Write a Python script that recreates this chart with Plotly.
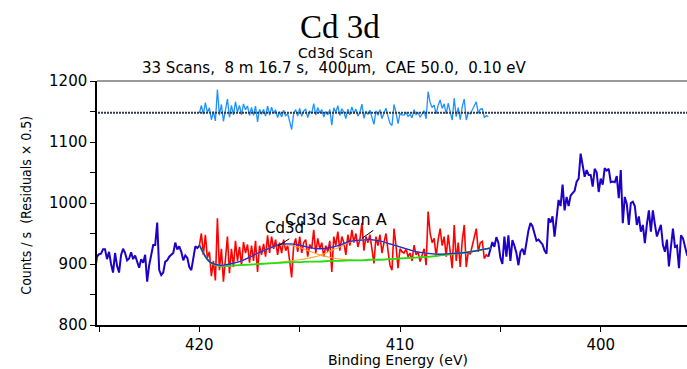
import numpy as np
import plotly.graph_objects as go

# ---------------- data ----------------
# binding energies, 0.1 eV steps
energy_low = np.round(np.arange(4252, 4199, -1) / 10.0, 1)    # 425.2 ... 420.0
energy_fit = np.round(np.arange(4200, 4055, -1) / 10.0, 1)    # 420.0 ... 405.6
energy_high = np.round(np.arange(4055, 3955, -1) / 10.0, 1)   # 405.5 ... 395.6

counts_low = [887, 912, 916, 917, 924, 924, 908, 920, 900, 886,
              918, 897, 886, 915, 925, 918, 906, 909, 919, 908,
              914, 902, 894, 908, 902, 915, 871, 898, 918, 931,
              931, 968, 890, 882, 886, 904, 906, 912, 915, 918,
              935, 924, 929, 920, 906, 914, 910, 895, 890, 912,
              929, 926, 930]

counts_fit = [930, 950, 915, 948, 910, 920, 880, 905, 873, 975,
              890, 925, 871, 915, 945, 885, 925, 895, 938, 905,
              928, 898, 936, 918, 932, 902, 930, 905, 938, 887,
              930, 915, 933, 912, 947, 918, 945, 925, 940, 915,
              935, 918, 940, 922, 930, 905, 878, 930, 942, 920,
              945, 918, 935, 940, 912, 932, 925, 956, 918, 942,
              925, 935, 912, 930, 920, 938, 887, 945, 930, 953,
              922, 945, 935, 915, 948, 930, 956, 935, 950, 928,
              940, 967, 922, 945, 935, 948, 925, 901, 945, 930,
              948, 918, 935, 950, 922, 898, 890, 958, 930, 893,
              925, 920, 918, 925, 912, 918, 905, 931, 915, 920,
              904, 915, 925, 898, 986, 950, 935, 942, 912, 940,
              958, 930, 945, 912, 948, 920, 893, 964, 905, 935,
              895, 938, 964, 895, 920, 916, 930, 945, 958, 920,
              935, 937, 909, 915, 912]

counts_high = [925, 936, 928, 944, 935, 910, 900, 945, 912, 947,
               905, 939, 930, 918, 898, 920, 925, 915, 935, 955,
               967, 962, 950, 938, 940, 935, 932, 922, 917, 975,
               968, 978, 945, 975, 1005, 995, 1030, 988, 1010, 995,
               1012, 1016, 1020, 1035, 1040, 1081, 1065, 1043, 1054, 1046,
               1046, 1027, 1056, 1050, 1018, 1040, 1030, 1057, 1053, 1056,
               1034, 1035, 1034, 1044, 1008, 1054, 967, 1010, 998, 964,
               1000, 1002, 995, 964, 978, 953, 964, 934, 965, 988,
               953, 988, 965, 945, 955, 964, 931, 920, 940, 896,
               928, 958, 928, 930, 893, 947, 942, 930, 915, 915]

residuals = [1147.5, 1160, 1145.5, 1164.5, 1148.5, 1156, 1136.5, 1150, 1134.5, 1186,
             1144, 1161.5, 1134, 1156, 1170.5, 1140.5, 1160, 1144.5, 1166, 1149,
             1160, 1144.5, 1162.5, 1153, 1159, 1143.5, 1156.5, 1143.5, 1159, 1133,
             1153.5, 1145.5, 1153.5, 1142.5, 1159, 1144, 1157, 1146.5, 1153, 1140,
             1149.5, 1141, 1152, 1142.5, 1146.5, 1134, 1120.5, 1147, 1153, 1142.5,
             1155, 1142, 1151, 1153.5, 1140, 1150.5, 1147, 1163, 1144, 1156.5,
             1148, 1153, 1141, 1150, 1144.5, 1153.5, 1127.5, 1156, 1148.5, 1159.5,
             1143.5, 1154.5, 1149, 1138.5, 1154, 1144.5, 1157.5, 1146.5, 1154, 1142.5,
             1148.5, 1162, 1139, 1150.5, 1145.5, 1152, 1140.5, 1129, 1151, 1144,
             1153, 1138.5, 1147.5, 1155.5, 1142, 1130.5, 1127, 1161.5, 1148, 1130,
             1146.5, 1144.5, 1144, 1148, 1142, 1145.5, 1139.5, 1153, 1145, 1148,
             1140.5, 1146, 1151.5, 1138, 1182.5, 1164.5, 1157, 1160.5, 1146, 1160,
             1169, 1155, 1162.5, 1146, 1163.5, 1149.5, 1136, 1171.5, 1141.5, 1156.5,
             1136.5, 1158, 1170.5, 1136, 1148, 1146, 1152.5, 1160, 1166, 1147,
             1154, 1154.5, 1140.5, 1143, 1141.5]
residual_baseline = 1148

# fit components on a 0.5 eV grid: 420.0 ... 405.5
energy_model = np.round(np.arange(840, 810, -1) / 2.0, 1)
background = [931, 904, 897, 897, 898, 899, 900, 901, 902, 903,
              903, 904, 904, 905, 905, 906, 906, 907, 907, 908,
              909, 910, 911, 912, 914, 916, 918, 920, 923, 926]
peak_cd3d = [931, 904, 898, 900, 904, 911, 919, 926, 931, 931,
             927, 921, 915, 911, 908, 907, 906, 907, 907, 908,
             909, 910, 911, 912, 914, 916, 918, 920, 923, 926]
peak_scan_a = [931, 904, 897, 897, 898, 899, 900, 901, 903, 905,
               907, 910, 914, 921, 928, 936, 939, 940, 938, 933,
               928, 923, 919, 917, 916, 917, 918, 920, 923, 926]
envelope = [931, 904, 898, 900, 904, 911, 919, 926, 932, 933,
            931, 927, 925, 927, 931, 937, 939, 940, 938, 933,
            928, 923, 919, 917, 916, 917, 918, 920, 923, 926]

x_tick_vals = [425, 420, 415, 410, 405, 400]
x_tick_text = ["", "420", "", "410", "", "400"]
y_tick_vals = [800, 850, 900, 950, 1000, 1050, 1100, 1150, 1200]
y_tick_text = ["800", "", "900", "", "1000", "", "1100", "", "1200"]

# ---------------- figure ----------------
fig = go.Figure()

blue_x = list(energy_low) + [None] + [energy_fit[-1]] + list(energy_high)
blue_y = list(counts_low) + [None] + [counts_fit[-1]] + list(counts_high)
fig.add_trace(go.Scatter(x=blue_x, y=blue_y, mode="lines", connectgaps=False,
                         line=dict(color="#1E00C8", width=2), hoverinfo="skip"))
fig.add_trace(go.Scatter(x=energy_fit, y=counts_fit, mode="lines",
                         line=dict(color="#FF0000", width=1.6), hoverinfo="skip"))
fig.add_trace(go.Scatter(x=energy_model, y=peak_cd3d, mode="lines", line_shape="spline",
                         line=dict(color="#FFA530", width=1.1), hoverinfo="skip"))
fig.add_trace(go.Scatter(x=energy_model, y=peak_scan_a, mode="lines", line_shape="spline",
                         line=dict(color="#FFA530", width=1.1), hoverinfo="skip"))
fig.add_trace(go.Scatter(x=energy_model, y=background, mode="lines", line_shape="spline",
                         line=dict(color="#22E010", width=1.8), hoverinfo="skip"))
fig.add_trace(go.Scatter(x=energy_model, y=envelope, mode="lines", line_shape="spline",
                         line=dict(color="#1A2BE0", width=1.3), hoverinfo="skip"))
fig.add_trace(go.Scatter(x=energy_fit, y=residuals, mode="lines",
                         line=dict(color="#1E90FF", width=1.3), hoverinfo="skip"))
fig.add_trace(go.Scatter(x=[energy_low[0], energy_high[-1]],
                         y=[residual_baseline, residual_baseline], mode="lines",
                         line=dict(color="#2E3A4A", width=2, dash="2px,1px"), hoverinfo="skip"))

sans = "DejaVu Sans"
annotations = [
    dict(text="Cd 3d", x=0.4119, y=1.221, xref="paper", yref="paper",
         showarrow=False, xanchor="center", yanchor="middle",
         font=dict(family="Liberation Serif", size=33, color="black")),
    dict(text="Cd3d Scan", x=0.405, y=1.113, xref="paper", yref="paper",
         showarrow=False, xanchor="center", yanchor="middle",
         font=dict(family=sans, size=14, color="black")),
    dict(text="33 Scans,\u00a0 8 m 16.7 s,\u00a0 400\u00b5m,\u00a0 CAE 50.0,\u00a0 0.10 eV",
         x=0.403, y=1.053, xref="paper", yref="paper",
         showarrow=False, xanchor="center", yanchor="middle",
         font=dict(family=sans, size=15, color="black")),
    dict(text="Binding Energy (eV)", x=0.5102, y=-0.143, xref="paper", yref="paper",
         showarrow=False, xanchor="center", yanchor="middle",
         font=dict(family=sans, size=14, color="black")),
    dict(text="Counts / s\u00a0 (Residuals \u00d7 0.5)", x=-0.12, y=0.49, xref="paper", yref="paper",
         showarrow=False, xanchor="center", yanchor="middle", textangle=-90,
         font=dict(family="Liberation Sans Narrow, DejaVu Sans Condensed, Arial Narrow, sans-serif",
                   size=14, color="black")),
    dict(text="Cd3d", x=416.1, y=929, xref="x", yref="y",
         showarrow=True, arrowhead=0, arrowwidth=1, arrowcolor="black",
         ax=28, ay=-18, xanchor="right", yanchor="middle",
         font=dict(family=sans, size=15, color="black")),
    dict(text="Cd3d Scan A", x=411.9, y=942, xref="x", yref="y",
         showarrow=True, arrowhead=0, arrowwidth=1, arrowcolor="black",
         ax=27, ay=-19, xanchor="right", yanchor="middle",
         font=dict(family=sans, size=16, color="black")),
]

fig.update_layout(
    width=687, height=369,
    margin=dict(l=97, r=0, t=81, b=44),
    paper_bgcolor="white", plot_bgcolor="white",
    showlegend=False,
    annotations=annotations,
    shapes=[dict(type="line", xref="paper", yref="paper", x0=0, x1=1, y0=1, y1=1,
                 line=dict(color="#7A7A7A", width=1.5))],
    xaxis=dict(range=[425.1, 395.7], showgrid=False, zeroline=False,
               showline=True, linecolor="black", linewidth=1.5,
               ticks="outside", ticklen=5, tickwidth=1, tickcolor="black",
               tickvals=x_tick_vals, ticktext=x_tick_text,
               tickfont=dict(family=sans, size=15, color="black")),
    yaxis=dict(range=[800, 1200], showgrid=False, zeroline=False,
               showline=True, linecolor="black", linewidth=1.5,
               ticks="outside", ticklen=5, tickwidth=1, tickcolor="black",
               tickvals=y_tick_vals, ticktext=y_tick_text,
               tickfont=dict(family=sans, size=15, color="black")),
)

fig.write_html("out.html")
